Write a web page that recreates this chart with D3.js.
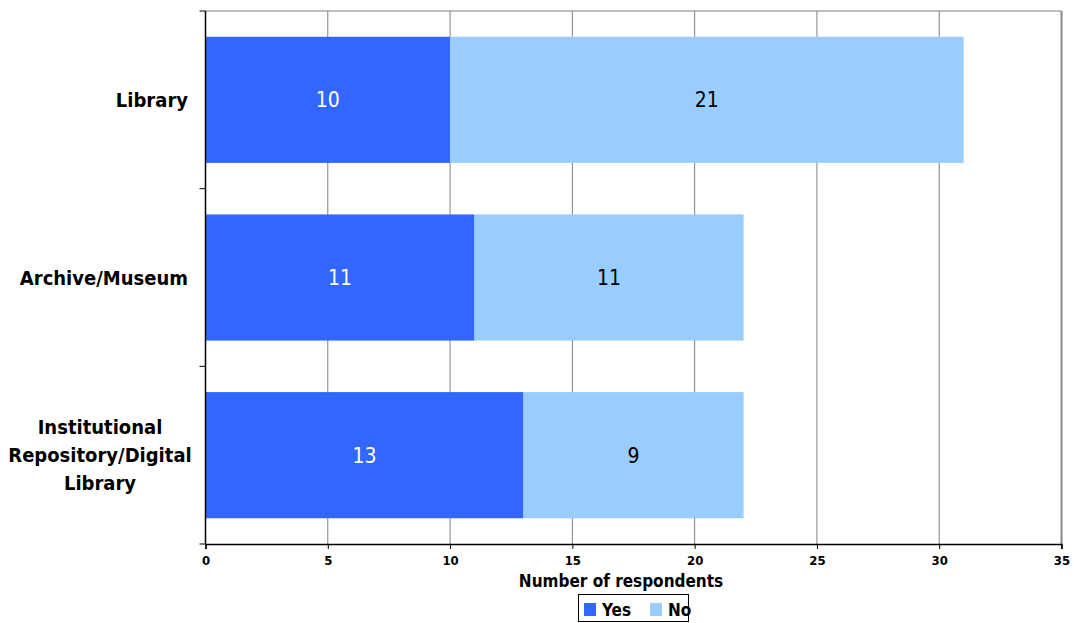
<!DOCTYPE html>
<html>
<head>
<meta charset="utf-8">
<script src="https://cdn.jsdelivr.net/npm/d3@7"></script>
<style>
  body { margin: 0; background: #fff; }
  svg { display: block; }
  text { font-family: "DejaVu Sans Condensed", "DejaVu Sans", sans-serif; }
</style>
</head>
<body>
<svg id="chart" width="1074" height="623"></svg>
<script>
// Survey responses per institution type
const categories = [
  ["Library"],
  ["Archive/Museum"],
  ["Institutional", "Repository/Digital", "Library"]
];
const seriesNames = ["Yes", "No"];
const yesValues = [10, 11, 13];
const noValues = [21, 11, 9];
const xTicks = [0, 5, 10, 15, 20, 25, 30, 35];
const colors = ["#3366FF", "#99CCFF"];
const labelColors = ["#ffffff", "#000000"];

const svg = d3.select("#chart");
const margin = { left: 205.5, top: 11, right: 1061.5, bottom: 544 };

const x = d3.scaleLinear().domain([0, 35]).range([margin.left, margin.right]);
const y = d3.scaleBand().domain(d3.range(categories.length))
  .range([margin.top, margin.bottom]).paddingInner(0.29).paddingOuter(0.145);

const rows = categories.map((c, i) => ({ i, vals: [yesValues[i], noValues[i]] }));
const stack = d3.stack().keys([0, 1]).value((d, k) => d.vals[k]);
const layers = stack(rows);

// Gridlines
svg.append("g").selectAll("line").data(xTicks.slice(1, -1)).join("line")
  .attr("x1", d => x(d)).attr("x2", d => x(d))
  .attr("y1", margin.top).attr("y2", margin.bottom)
  .attr("stroke", "#808080").attr("stroke-width", 1);

// Plot border (top and right)
svg.append("line").attr("x1", margin.left).attr("x2", margin.right)
  .attr("y1", margin.top).attr("y2", margin.top)
  .attr("stroke", "#808080").attr("stroke-width", 1.2);
svg.append("line").attr("x1", margin.right).attr("x2", margin.right)
  .attr("y1", margin.top).attr("y2", margin.bottom)
  .attr("stroke", "#888").attr("stroke-width", 2);

// Bars
const gBars = svg.append("g");
layers.forEach((layer, k) => {
  gBars.selectAll(null).data(layer).join("rect")
    .attr("x", d => x(d[0]))
    .attr("width", d => x(d[1]) - x(d[0]))
    .attr("y", d => y(d.data.i))
    .attr("height", y.bandwidth())
    .attr("fill", colors[k]);
  gBars.selectAll(null).data(layer).join("text")
    .attr("x", d => (x(d[0]) + x(d[1])) / 2)
    .attr("y", d => y(d.data.i) + y.bandwidth() / 2)
    .attr("dy", "0.36em")
    .attr("text-anchor", "middle")
    .attr("font-size", 21)
    .attr("fill", labelColors[k])
    .text(d => d.data.vals[k]);
});

// X axis
const xAxis = d3.axisBottom(x).tickValues(xTicks).tickSize(5).tickPadding(7);
const gx = svg.append("g").attr("transform", `translate(0,${margin.bottom})`).call(xAxis);
gx.select(".domain").attr("stroke", "#000").attr("stroke-width", 1.5);
gx.selectAll(".tick line").attr("stroke", "#000");
gx.selectAll(".tick text").attr("font-size", 13).attr("font-weight", "bold").attr("fill", "#000");

// Y axis line with category boundary ticks
svg.append("line").attr("x1", margin.left).attr("x2", margin.left)
  .attr("y1", margin.top).attr("y2", margin.bottom)
  .attr("stroke", "#000").attr("stroke-width", 1.5);
const bounds = d3.range(categories.length + 1).map(i => margin.top + i * (margin.bottom - margin.top) / categories.length);
svg.append("g").selectAll("line").data(bounds).join("line")
  .attr("x1", margin.left - 6).attr("x2", margin.left)
  .attr("y1", d => d).attr("y2", d => d)
  .attr("stroke", "#000").attr("stroke-width", 1);

// Category labels
const gCat = svg.append("g");
categories.forEach((lines, i) => {
  const cy = y(i) + y.bandwidth() / 2;
  const lh = 28;
  const multi = lines.length > 1;
  const t = gCat.append("text")
    .attr("text-anchor", multi ? "middle" : "end")
    .attr("font-size", 20).attr("font-weight", "bold").attr("fill", "#000");
  lines.forEach((ln, j) => {
    t.append("tspan")
      .attr("x", multi ? 100 : 188)
      .attr("y", cy + (j - (lines.length - 1) / 2) * lh)
      .attr("dy", "0.36em")
      .text(ln);
  });
});

// Axis title
svg.append("text").attr("x", 621).attr("y", 587)
  .attr("text-anchor", "middle").attr("font-size", 17).attr("font-weight", "bold")
  .text("Number of respondents");

// Legend
const lg = svg.append("g");
lg.append("rect").attr("x", 578.5).attr("y", 594.5).attr("width", 110).attr("height", 27)
  .attr("fill", "#fff").attr("stroke", "#000").attr("stroke-width", 1);
const legendX = [584, 650];
seriesNames.forEach((name, k) => {
  lg.append("rect").attr("x", legendX[k]).attr("y", 603).attr("width", 12).attr("height", 13)
    .attr("fill", colors[k]);
  lg.append("text").attr("x", legendX[k] + 18).attr("y", 609.5).attr("dy", "0.36em")
    .attr("font-size", 17).attr("font-weight", "bold").text(name);
});
</script>
</body>
</html>
